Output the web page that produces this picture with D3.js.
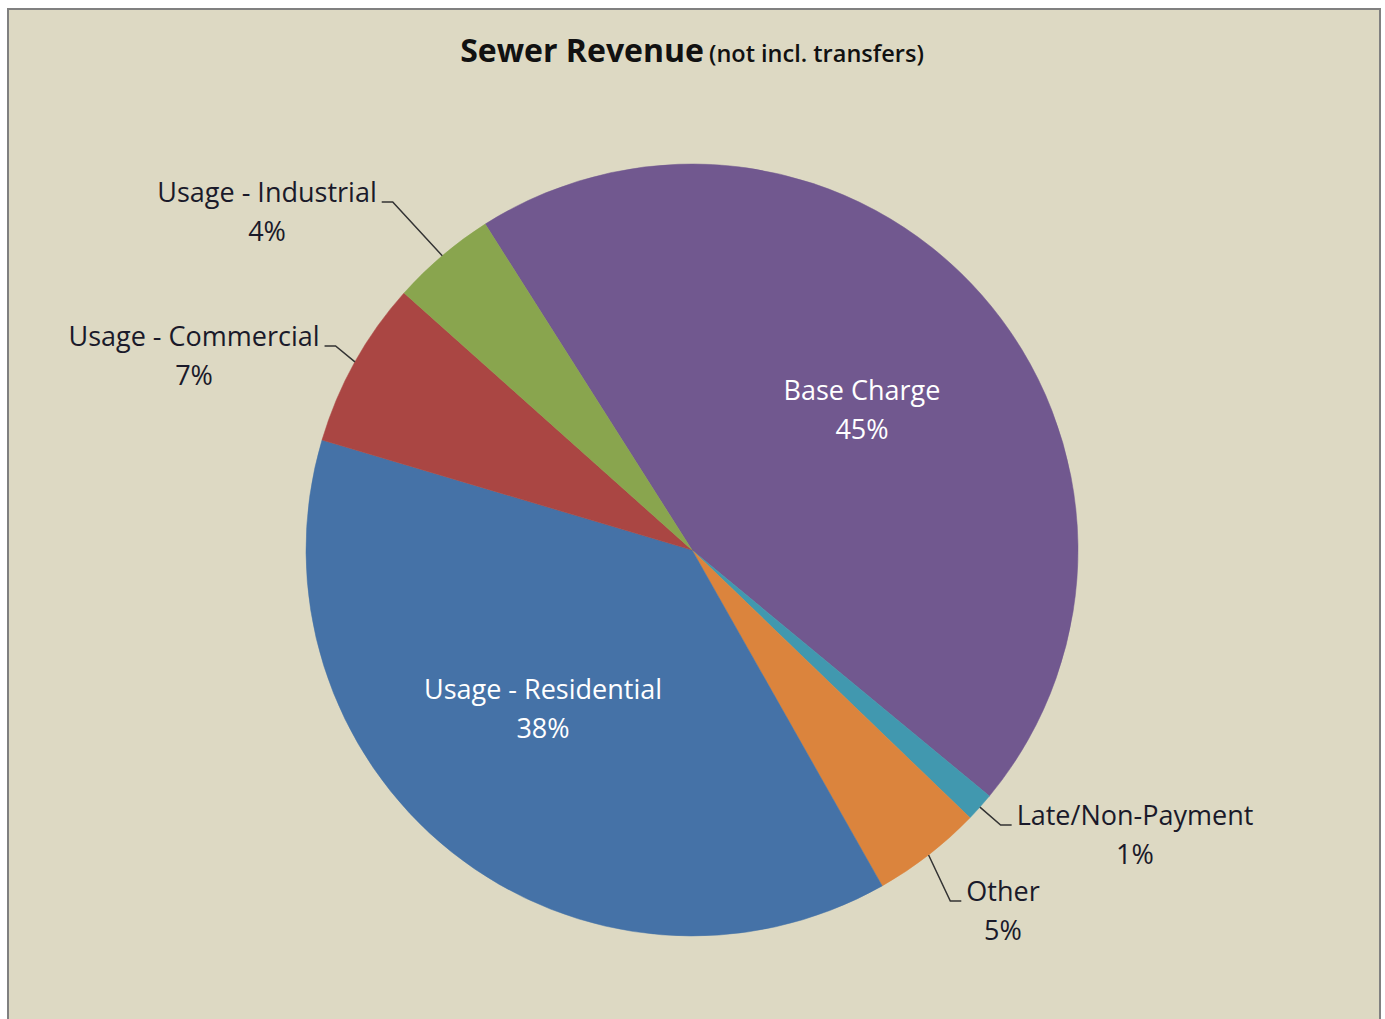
<!DOCTYPE html>
<html>
<head>
<meta charset="utf-8">
<script src="https://cdn.jsdelivr.net/npm/d3@7"></script>
<style>
  html, body { margin: 0; padding: 0; background: #ffffff; }
  svg { display: block; }
  text { font-family: "Open Sans", "Noto Sans", sans-serif; }
</style>
</head>
<body>
<svg id="chart" width="1385" height="1019"></svg>
<script>
// Sewer revenue shares (percent), in drawing order clockwise
const categories = ["Base Charge", "Late/Non-Payment", "Other", "Usage - Residential", "Usage - Commercial", "Usage - Industrial"];
const shares = [45.0, 1.2, 4.6, 37.8, 7.0, 4.4];
const colors = ["#71588F", "#4198AF", "#DB843D", "#4572A7", "#AA4643", "#89A54E"];

// Label placement: offset of the first-line baseline from the pie centre,
// and whether the label sits inside the slice or outside with a leader line.
const labelLayout = [
  { dx: 170, dy: -150, inside: true },
  { dx: 443, dy: 275, inside: false, side: "right" },
  { dx: 311, dy: 351, inside: false, side: "right" },
  { dx: -149, dy: 149, inside: true },
  { dx: -498, dy: -204, inside: false, side: "left" },
  { dx: -425, dy: -348, inside: false, side: "left" }
];

const W = 1385, H = 1019;
const cx = 692, cy = 550, radius = 386;
const startDeg = -32.4;

const svg = d3.select("#chart");

// chart area background and frame
svg.append("rect")
  .attr("x", 8).attr("y", 9)
  .attr("width", 1372).attr("height", 1030)
  .attr("fill", "#DDD9C3")
  .attr("stroke", "#808080")
  .attr("stroke-width", 2);

// title
const title = svg.append("text")
  .attr("x", cx).attr("y", 62)
  .attr("text-anchor", "middle")
  .attr("fill", "#111111");
title.append("tspan")
  .attr("font-weight", "bold")
  .attr("font-size", 32)
  .text("Sewer Revenue");
title.append("tspan")
  .attr("font-weight", "600")
  .attr("font-size", 23.5)
  .attr("dx", 5)
  .text("(not incl. transfers)");

const data = categories.map((c, i) => ({ name: c, value: shares[i], color: colors[i], layout: labelLayout[i] }));

const pie = d3.pie()
  .sort(null)
  .value(d => d.value)
  .startAngle(startDeg * Math.PI / 180)
  .endAngle(startDeg * Math.PI / 180 + 2 * Math.PI);

const arc = d3.arc().innerRadius(0).outerRadius(radius);
const total = d3.sum(shares);
const pct = d => Math.round(d.value / total * 100) + "%";

const g = svg.append("g").attr("transform", `translate(${cx},${cy})`);
const arcs = pie(data);

g.selectAll("path.slice")
  .data(arcs)
  .join("path")
  .attr("class", "slice")
  .attr("d", arc)
  .attr("fill", d => d.data.color)
  .attr("stroke", d => d.data.color)
  .attr("stroke-width", 0.5);

const fontSize = 27;
const lineGap = 39;

const labels = g.selectAll("g.label")
  .data(arcs)
  .join("g")
  .attr("class", "label");

labels.each(function(d) {
  const L = d.data.layout;
  const sel = d3.select(this);
  const fill = L.inside ? "#ffffff" : "#1a1a2a";
  const t1 = sel.append("text")
    .attr("x", L.dx).attr("y", L.dy)
    .attr("text-anchor", "middle")
    .attr("font-size", fontSize)
    .attr("fill", fill)
    .text(d.data.name);
  sel.append("text")
    .attr("x", L.dx).attr("y", L.dy + lineGap)
    .attr("text-anchor", "middle")
    .attr("font-size", fontSize)
    .attr("fill", fill)
    .text(pct(d.data));

  if (!L.inside) {
    const w = t1.node().getComputedTextLength();
    const mid = (d.startAngle + d.endAngle) / 2;
    const ex = Math.sin(mid) * radius;
    const ey = -Math.cos(mid) * radius;
    const hx0 = L.side === "left" ? L.dx + w / 2 + 5 : L.dx - w / 2 - 5;
    const hx1 = L.side === "left" ? hx0 + 11 : hx0 - 11;
    const hy = L.dy;
    sel.append("path")
      .attr("d", d3.line()([[hx0, hy], [hx1, hy], [ex, ey]]))
      .attr("fill", "none")
      .attr("stroke", "#333333")
      .attr("stroke-width", 1.5);
  }
});
</script>
</body>
</html>
